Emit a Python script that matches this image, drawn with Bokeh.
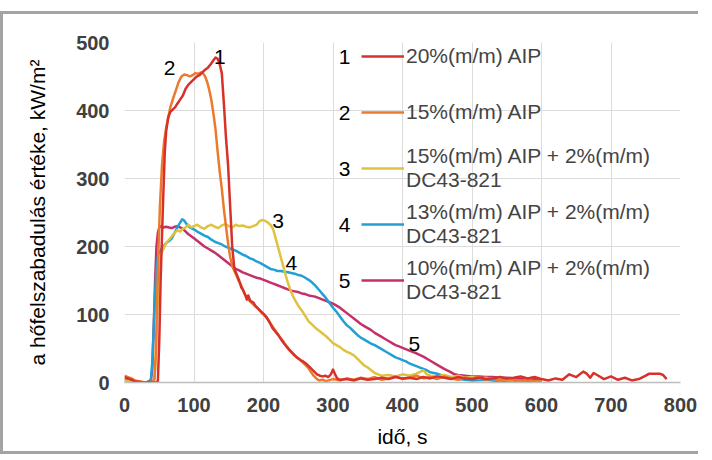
from bokeh.plotting import figure
from bokeh.models import Range1d, FixedTicker, Legend, LegendItem
from bokeh.core.properties import value
from bokeh.embed import file_html
from bokeh.resources import INLINE

# ---------------- data ----------------
t1 = [0, 5, 10, 15, 20, 25, 30, 35, 40, 45, 48, 50, 52, 55, 58, 60, 63, 66, 70, 73, 76, 80, 84, 88, 92, 96,
      100, 104, 108, 112, 116, 120, 124, 128, 131, 134, 137, 140, 143, 146, 149, 152, 155, 158, 161, 165,
      168, 171, 174, 176, 178, 181, 185, 189, 193, 197, 201, 205, 209, 213, 217, 221, 225, 229, 233, 237,
      241, 245, 249, 253, 257, 261, 265, 269, 273, 277, 281, 285, 289, 293, 297, 300, 303, 306, 310, 320,
      330, 340, 350, 360, 370, 380, 390, 400, 410, 420, 430, 440, 450, 460, 470, 480, 490, 500, 510, 520,
      530, 540, 550, 560, 570, 580, 590, 600, 610, 620, 630, 640, 650, 660, 665, 670, 675, 680, 690, 700,
      710, 720, 730, 740, 750, 755, 760, 770, 775, 780]
hrr1 = [8, 6, 4, 2, 1, 0, 0, 1, 0, 0, 2, 60, 150, 250, 340, 370, 390, 398, 402, 405, 410, 416, 422, 432, 438,
        442, 446, 450, 452, 456, 460, 463, 468, 474, 478, 476, 468, 455, 410, 360, 320, 260, 200, 168, 160,
        150, 140, 135, 128, 122, 128, 120, 118, 112, 108, 104, 100, 95, 88, 80, 75, 70, 64, 58, 53, 48, 44,
        40, 36, 33, 31, 28, 24, 20, 16, 12, 10, 9, 10, 8, 12, 19, 12, 6, 4, 5, 3, 6, 4, 5, 7, 5, 8, 6, 7, 5,
        8, 6, 9, 7, 5, 8, 6, 5, 7, 5, 6, 8, 6, 7, 9, 6, 8, 5, 3, 6, 4, 12, 8, 16, 13, 7, 14, 11, 5, 9, 4, 7,
        3, 5, 10, 13, 13, 13, 11, 5]

t2 = [0, 5, 10, 15, 20, 25, 30, 35, 40, 43, 45, 47, 49, 51, 54, 57, 60, 63, 66, 70, 74, 78, 82, 86, 90, 94,
      98, 102, 106, 110, 113, 116, 119, 122, 125, 128, 131, 134, 137, 140, 143, 146, 149, 152, 155, 158,
      161, 164, 167, 170, 173, 176, 180, 184, 188, 192, 196, 200, 204, 208, 212, 216, 220, 224, 228, 232,
      236, 240, 244, 248, 252, 256, 260, 264, 268, 272, 276, 280, 285, 290, 300, 310, 320, 330, 340, 350,
      360, 370, 380, 390, 400, 410, 420, 430, 440, 450, 460, 470, 480, 490, 500, 510, 520, 530, 540, 550,
      560, 570, 580, 590, 600]
hrr2 = [10, 8, 6, 3, 2, 1, 0, 0, 1, 5, 40, 120, 200, 260, 320, 355, 375, 390, 405, 418, 430, 442, 450, 453,
        452, 450, 452, 455, 454, 456, 455, 450, 442, 430, 415, 395, 372, 340, 310, 285, 255, 230, 205, 185,
        172, 164, 158, 150, 145, 138, 130, 125, 120, 116, 112, 109, 104, 100, 96, 90, 84, 78, 72, 66, 61,
        55, 50, 45, 40, 37, 34, 30, 26, 22, 16, 10, 6, 3, 4, 2, 5, 3, 6, 4, 7, 5, 8, 4, 6, 9, 5, 7, 10, 6,
        8, 5, 9, 6, 4, 7, 5, 8, 4, 6, 3, 5, 4, 2, 4, 2, 3]

t3 = [0, 10, 20, 30, 40, 43, 45, 47, 49, 51, 53, 56, 60, 64, 68, 72, 76, 80, 84, 88, 92, 96, 100, 105, 110,
      115, 120, 125, 130, 135, 140, 145, 150, 155, 160, 165, 170, 175, 180, 185, 190, 195, 200, 205, 210,
      214, 218, 222, 226, 230, 234, 238, 242, 246, 250, 255, 260, 265, 270, 275, 280, 285, 290, 295, 300,
      305, 310, 315, 320, 325, 330, 335, 340, 345, 350, 355, 360, 365, 370, 380, 390, 400, 410, 420, 430,
      435, 440, 450, 460, 470, 480, 490, 500, 510, 520, 530, 540, 550, 560]
hrr3 = [3, 1, 0, 0, 1, 3, 40, 100, 150, 180, 190, 196, 205, 210, 215, 220, 224, 222, 226, 228, 232, 228,
        230, 232, 228, 226, 230, 232, 229, 227, 231, 233, 230, 228, 232, 230, 231, 229, 228, 230, 232, 238,
        239, 236, 232, 225, 210, 195, 180, 165, 150, 138, 128, 120, 113, 106, 98, 90, 85, 80, 76, 72, 68,
        63, 58, 55, 52, 48, 45, 43, 40, 35, 30, 25, 22, 18, 14, 12, 10, 11, 9, 12, 10, 13, 18, 12, 10, 9,
        11, 8, 10, 7, 8, 6, 7, 5, 6, 4, 3]

t4 = [0, 10, 20, 30, 35, 38, 40, 42, 44, 46, 48, 50, 53, 56, 60, 64, 68, 72, 76, 80, 83, 86, 90, 94, 98,
      102, 106, 110, 115, 120, 125, 130, 135, 140, 145, 150, 155, 160, 165, 170, 175, 180, 185, 190, 195,
      200, 205, 210, 215, 220, 225, 230, 235, 240, 245, 250, 255, 260, 265, 270, 275, 280, 285, 290, 295,
      300, 305, 310, 315, 320, 325, 330, 335, 340, 345, 350, 355, 360, 365, 370, 375, 380, 385, 390, 395,
      400, 405, 410, 415, 420, 425, 430, 435, 440, 445, 450, 455, 460, 465, 470, 480, 490, 500, 520, 540,
      560, 580, 600]
hrr4 = [2, 1, 0, 0, 1, 5, 30, 80, 130, 170, 185, 192, 196, 200, 205, 208, 212, 220, 228, 235, 240, 238,
        232, 228, 226, 224, 221, 219, 216, 214, 210, 207, 205, 203, 200, 198, 196, 194, 191, 188, 186, 183,
        181, 178, 176, 173, 170, 167, 166, 164, 164, 163, 162, 161, 160, 158, 157, 154, 151, 147, 142, 136,
        130, 124, 117, 110, 104, 97, 90, 84, 80, 75, 70, 66, 63, 60, 57, 55, 52, 49, 46, 43, 40, 37, 35, 33,
        31, 28, 26, 24, 22, 20, 18, 15, 14, 13, 11, 9, 8, 6, 5, 4, 3, 4, 2, 3, 2, 1]

t5 = [0, 10, 20, 30, 35, 38, 40, 42, 44, 46, 48, 50, 53, 56, 60, 64, 68, 72, 76, 80, 84, 88, 92, 96, 100,
      105, 110, 115, 120, 125, 130, 135, 140, 145, 150, 155, 160, 165, 170, 175, 180, 185, 190, 195, 200,
      205, 210, 215, 220, 225, 230, 235, 240, 245, 250, 255, 260, 265, 270, 275, 280, 285, 290, 295, 300,
      305, 310, 315, 320, 325, 330, 335, 340, 345, 350, 355, 360, 365, 370, 375, 380, 385, 390, 395, 400,
      410, 420, 430, 440, 450, 460, 468, 475, 480, 490, 500, 510, 520, 530, 540, 550, 560, 570, 580, 590,
      600]
hrr5 = [5, 2, 1, 0, 1, 3, 20, 80, 150, 200, 220, 228, 230, 228, 229, 228, 227, 229, 230, 228, 226, 222,
        218, 215, 212, 208, 204, 200, 197, 194, 191, 187, 183, 179, 175, 171, 167, 165, 162, 160, 158, 156,
        154, 153, 151, 149, 147, 145, 143, 141, 139, 137, 135, 134, 133, 131, 130, 128, 127, 126, 124, 122,
        120, 118, 116, 113, 110, 106, 102, 98, 94, 90, 86, 83, 80, 77, 73, 70, 67, 64, 61, 58, 55, 53, 51,
        47, 43, 38, 32, 26, 20, 16, 12, 11, 10, 9, 9, 8, 8, 7, 7, 6, 6, 5, 5, 4]

series_ids = ["1", "2", "3", "4", "5"]
legend_labels = ["20%(m/m) AIP", "15%(m/m) AIP", "15%(m/m) AIP + 2%(m/m)\nDC43-821",
                 "13%(m/m) AIP + 2%(m/m)\nDC43-821", "10%(m/m) AIP + 2%(m/m)\nDC43-821"]
colors = ["#d7312a", "#ec7a2c", "#dfc33f", "#22a0d6", "#c5306a"]
# curve tag labels placed next to the curves (data coordinates)
tag_x = [137, 65, 221, 240, 417]
tag_y = [478, 463, 237, 176, 56]

xs = [t1, t2, t3, t4, t5]
ys = [hrr1, hrr2, hrr3, hrr4, hrr5]

# ---------------- layout ----------------
W, H = 698, 443
FONT = "Liberation Sans"

p = figure(width=W, height=H, output_backend="svg", toolbar_location=None,
           x_range=Range1d(0, 800), y_range=Range1d(0, 500),
           min_border_left=121, min_border_right=21, min_border_top=28, min_border_bottom=75,
           margin=(11, 0, 0, 0),
           styles={"border-left": "3px solid #a3a3a3", "border-top": "3px solid #a3a3a3",
                   "border-bottom": "3px solid #a3a3a3"})
p.outline_line_color = None
p.background_fill_color = "white"
p.border_fill_color = "white"

p.xaxis.ticker = FixedTicker(ticks=list(range(0, 801, 100)))
p.yaxis.ticker = FixedTicker(ticks=list(range(0, 501, 100)))
p.xgrid.ticker = p.xaxis.ticker
p.ygrid.ticker = p.yaxis.ticker
for g in (p.xgrid, p.ygrid):
    g.grid_line_color = "#dcdcdc"
    g.grid_line_width = 1

for ax in (p.xaxis, p.yaxis):
    ax.major_tick_line_color = None
    ax.minor_tick_line_color = None
    ax.major_label_text_font = FONT
    ax.major_label_text_font_size = "20px"
    ax.major_label_text_font_style = "bold"
    ax.major_label_text_color = "#404040"
    ax.axis_label_text_font = FONT
    ax.axis_label_text_font_size = "21px"
    ax.axis_label_text_font_style = "normal"
    ax.axis_label_text_color = "black"

p.xaxis.axis_line_color = "#bdbdbd"
p.xaxis.axis_line_width = 1.5
p.yaxis.axis_line_color = None
p.xaxis.major_label_standoff = 9
p.yaxis.major_label_standoff = 9
p.xaxis.axis_label = "idő, s"
p.yaxis.axis_label = "a hőfelszabadulás értéke, kW/m²"
p.xaxis.axis_label_standoff = 10
p.yaxis.axis_label_standoff = 24

renderers = []
for i in [4, 3, 2, 1, 0]:
    r = p.line(xs[i], ys[i], line_color=colors[i], line_width=2.5, line_join="round")
    renderers.append((i, r))
renderers = [r for i, r in sorted(renderers)]

p.text(x=tag_x, y=tag_y, text=series_ids, text_font=value(FONT), text_font_size="21px",
       text_align="center", text_baseline="middle", text_color="black")

items = [LegendItem(label=lab, renderers=[r]) for lab, r in zip(legend_labels, renderers)]
legend = Legend(items=items, location=(237, 77), padding=0, margin=0, spacing=6,
                glyph_width=43, glyph_height=50, label_height=50, label_standoff=2,
                label_text_font=FONT, label_text_font_size="21px", label_text_line_height=1.2,
                border_line_color=None, background_fill_alpha=0)
p.add_layout(legend)

# legend numbers, to the left of each legend line
leg_px_x = 345 - 125
row_px = [57, 113, 169, 225, 281]
num_x = [leg_px_x * 800 / 556] * 5
num_y = [(383 - r) * 500 / 340 for r in row_px]
p.text(x=num_x, y=num_y, text=series_ids, text_font=value(FONT), text_font_size="21px",
       text_align="center", text_baseline="middle", text_color="black")

open("out.html", "w").write(file_html(p, INLINE))
